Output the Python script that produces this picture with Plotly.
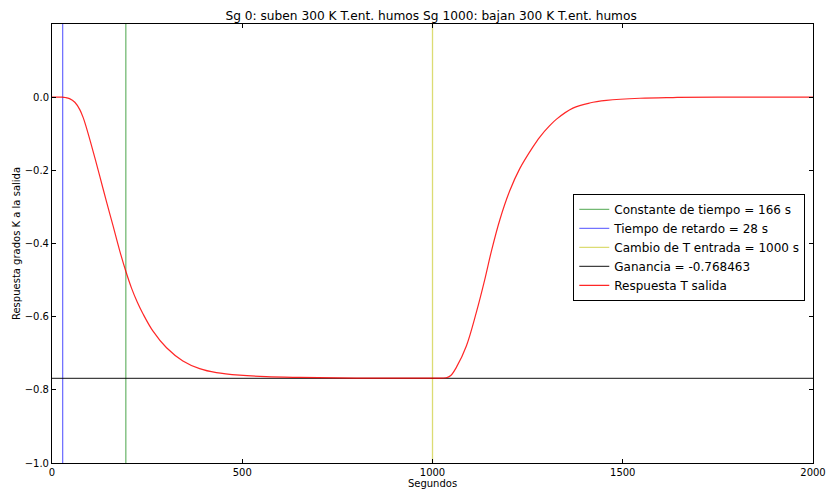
import plotly.graph_objects as go

# Data
t_resp = [0, 27, 35, 46, 60, 73, 82, 90, 108, 125, 143, 160, 178, 194, 209, 224, 239, 265, 301, 344, 388, 432,
          493, 563, 651, 800, 950, 1000, 1036, 1048, 1063, 1089, 1115, 1137, 1155, 1177, 1203, 1229, 1264,
          1282, 1308, 1326, 1369, 1413, 1457, 1545, 1632, 1750, 2000]
y_resp = [0.0, 0.0, -0.001, -0.004, -0.014, -0.034, -0.056, -0.082, -0.148, -0.214, -0.285, -0.350, -0.420,
          -0.476, -0.522, -0.560, -0.592, -0.639, -0.685, -0.721, -0.742, -0.753,
          -0.760, -0.764, -0.766, -0.768, -0.768, -0.768, -0.767, -0.761, -0.738, -0.680, -0.589, -0.500,
          -0.420, -0.335, -0.256, -0.196, -0.136, -0.109, -0.078, -0.060, -0.030, -0.016, -0.009, -0.003,
          -0.001, 0.0, 0.0]

tau = 166
delay = 28
t_change = 1000
gain = -0.768463
x_range = [0, 2000]
y_range = [-1.0, 0.2]
x_ticks = [0, 500, 1000, 1500, 2000]
y_ticks = [-1.0, -0.8, -0.6, -0.4, -0.2, 0.0]

FONT = "DejaVu Sans"

fig = go.Figure()
fig.add_trace(go.Scatter(x=[delay + tau, delay + tau], y=y_range, mode="lines",
                         line=dict(color="rgba(0,128,0,0.55)", width=1.3),
                         name="Constante de tiempo = %d s" % tau))
fig.add_trace(go.Scatter(x=[delay, delay], y=y_range, mode="lines",
                         line=dict(color="rgba(0,0,255,0.55)", width=1.3),
                         name="Tiempo de retardo = %d s" % delay))
fig.add_trace(go.Scatter(x=[t_change, t_change], y=y_range, mode="lines",
                         line=dict(color="rgba(191,191,0,0.55)", width=1.3),
                         name="Cambio de T entrada = %d s" % t_change))
fig.add_trace(go.Scatter(x=x_range, y=[gain, gain], mode="lines",
                         line=dict(color="rgba(0,0,0,0.75)", width=1.2),
                         name="Ganancia = %s" % gain))
fig.add_trace(go.Scatter(x=t_resp, y=y_resp, mode="lines", line_shape="spline",
                         line=dict(color="rgba(255,0,0,0.85)", width=1.2, smoothing=1.0),
                         name="Respuesta T salida"))

fig.update_layout(
    width=827, height=490,
    margin=dict(l=52, r=14, t=24, b=27, autoexpand=False),
    paper_bgcolor="white", plot_bgcolor="white",
    font=dict(family=FONT, size=10, color="black"),
    title=dict(text="Sg 0: suben 300 K T.ent. humos Sg 1000: bajan 300 K T.ent. humos",
               x=0.5213, xanchor="center", y=0.967, yanchor="middle",
               font=dict(family=FONT, size=12.2, color="black")),
    showlegend=True,
    legend=dict(x=0.685, y=0.613, xanchor="left", yanchor="top",
                bordercolor="black", borderwidth=1, bgcolor="white",
                font=dict(family=FONT, size=12, color="black"),
                tracegroupgap=0, itemwidth=30),
)
fig.update_xaxes(range=x_range, tickvals=x_ticks, ticks="inside", ticklen=4, tickcolor="black",
                 showline=True, linecolor="black", linewidth=1, mirror="ticks",
                 showgrid=False, zeroline=False, automargin=False,
                 title=dict(text="Segundos", standoff=0, font=dict(family=FONT, size=10)))
fig.update_yaxes(range=y_range, tickvals=y_ticks, tickformat=".1f", ticks="inside", ticklen=4,
                 tickcolor="black", showline=True, linecolor="black", linewidth=1, mirror="ticks",
                 showgrid=False, zeroline=False, automargin=False,
                 title=dict(text="Respuesta grados K a la salida", standoff=2, font=dict(family=FONT, size=10)))

fig.write_html("out.html")
